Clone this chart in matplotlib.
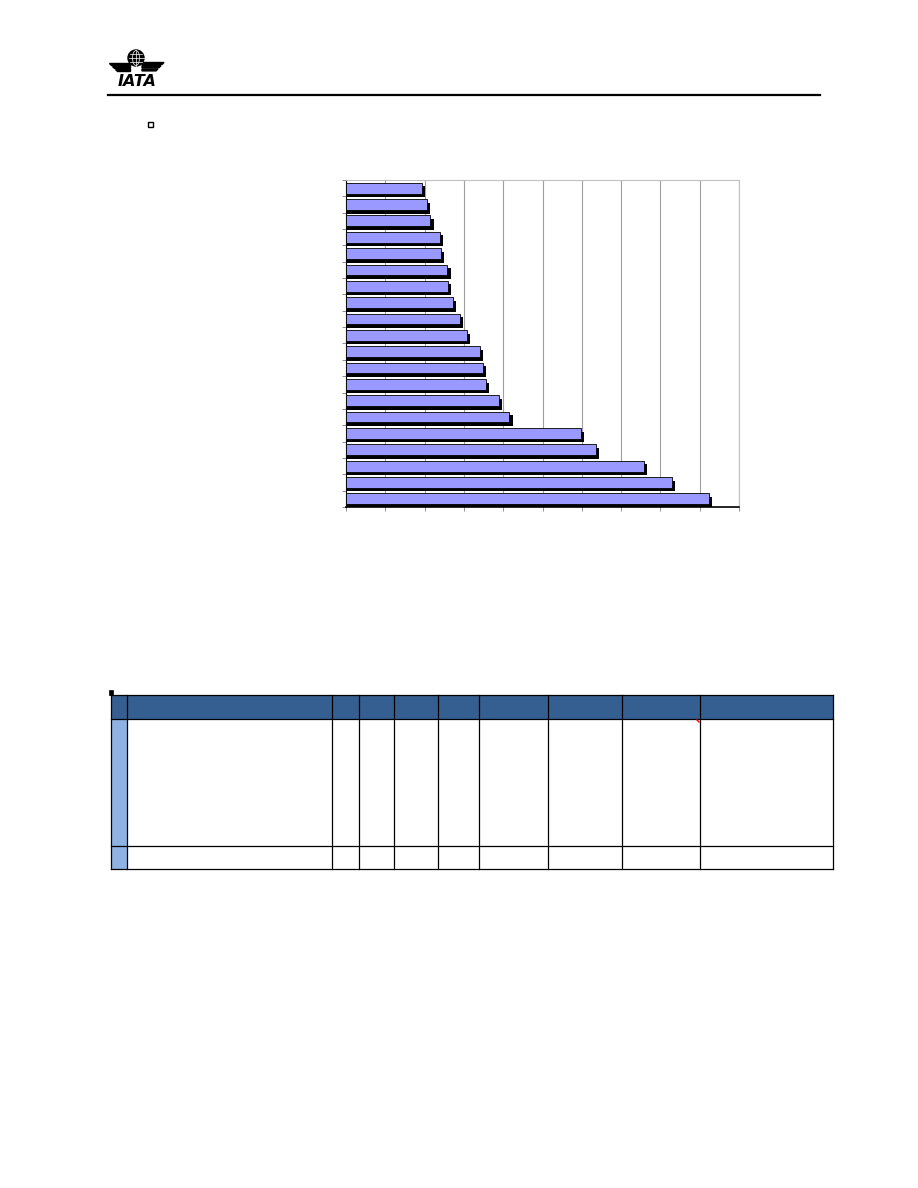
import matplotlib.pyplot as plt
from matplotlib.patches import Rectangle, Circle, Polygon, Ellipse

# bar values, top bar first (no labels shown on the page)
values = [1.94, 2.05, 2.15, 2.38, 2.42, 2.58, 2.60, 2.73, 2.90, 3.08,
          3.41, 3.49, 3.56, 3.89, 4.16, 5.98, 6.36, 7.58, 8.30, 9.24]
x_ticks = list(range(0, 11))

# table column edges and row edges (page pixels)
col_edges = [111, 127, 332, 359, 394, 438, 479, 548, 622, 700, 833]
row_edges = [695, 719, 846, 869]

W, H = 918, 1188
fig = plt.figure(figsize=(W / 100, H / 100), dpi=100)

# page overlay in pixel coords
page = fig.add_axes([0, 0, 1, 1])
page.set_xlim(0, W)
page.set_ylim(H, 0)
page.axis('off')

# IATA logo
page.add_patch(Circle((136, 58), 8, facecolor='black', edgecolor='black', zorder=2))
page.add_patch(Ellipse((136, 58), 7, 15, facecolor='none', edgecolor='white', lw=0.5, zorder=3))
page.plot([128.5, 143.5], [58, 58], color='white', lw=0.5, zorder=3)
page.plot([130, 142], [54, 54], color='white', lw=0.5, zorder=3)
page.plot([130, 142], [62, 62], color='white', lw=0.5, zorder=3)
page.plot([136, 136], [50.5, 65.5], color='white', lw=0.5, zorder=3)
for i, dy in enumerate((0, 3.2, 6.4)):
    page.add_patch(Polygon([(109 + 3 * i, 62.5 + dy), (130, 62.5 + dy), (130, 64.5 + dy),
                            (111 + 3 * i, 64.5 + dy)], color='black'))
    page.add_patch(Polygon([(142, 62.5 + dy), (164 - 3 * i, 62.5 + dy), (162 - 3 * i, 64.5 + dy),
                            (142, 64.5 + dy)], color='black'))
page.text(137, 86, 'IATA', ha='center', va='baseline', fontsize=11.5,
          fontweight='bold', fontstyle='italic', family='DejaVu Sans')
page.plot([108, 820], [94.5, 94.5], color='black', lw=1.6)

# bullets
page.add_patch(Rectangle((147.5, 122), 5, 5, facecolor='white', edgecolor='black', lw=1))
page.add_patch(Rectangle((108.5, 690), 4.5, 4.5, facecolor='black', edgecolor='black', lw=0.5))

# table
top, hdr, body, bot = row_edges
page.add_patch(Rectangle((col_edges[0], top), col_edges[-1] - col_edges[0], hdr - top,
                         facecolor='#365F91', edgecolor='none'))
page.add_patch(Rectangle((col_edges[0], hdr), col_edges[1] - col_edges[0], bot - hdr,
                         facecolor='#8EB3E3', edgecolor='none'))
for y in row_edges:
    page.plot([col_edges[0], col_edges[-1]], [y, y], color='black', lw=0.9)
for x in col_edges:
    page.plot([x, x], [top, bot], color='black', lw=0.9)
page.plot([697, 699], [720, 722], color='red', lw=1)

# bar chart
ax = fig.add_axes([346 / W, 1 - 507 / H, 393 / W, 327 / H])
ypos = list(range(len(values)))
ax.barh([y + 0.22 for y in ypos], [v + 0.08 for v in values], height=0.66,
        color='black', zorder=2)
ax.barh(ypos, values, height=0.66, color='#9999FF', edgecolor='black', lw=0.6, zorder=3)
ax.set_xlim(0, 10)
ax.set_ylim(len(values) - 0.5, -0.5)
ax.set_xticks(x_ticks)
ax.set_yticks([y - 0.5 for y in ypos] + [len(values) - 0.5])
ax.set_xticklabels([])
ax.set_yticklabels([])
ax.tick_params(length=3, width=0.6, color='#808080')
ax.grid(axis='x', color='#a0a0a0', lw=0.8, zorder=0)
ax.set_axisbelow(True)
for s in ('top', 'right'):
    ax.spines[s].set_color('#c0c0c0')
    ax.spines[s].set_linewidth(0.8)
ax.spines['left'].set_color('black')
ax.spines['bottom'].set_color('black')
ax.spines['bottom'].set_linewidth(1.2)

fig.savefig('out.png', dpi=100)
